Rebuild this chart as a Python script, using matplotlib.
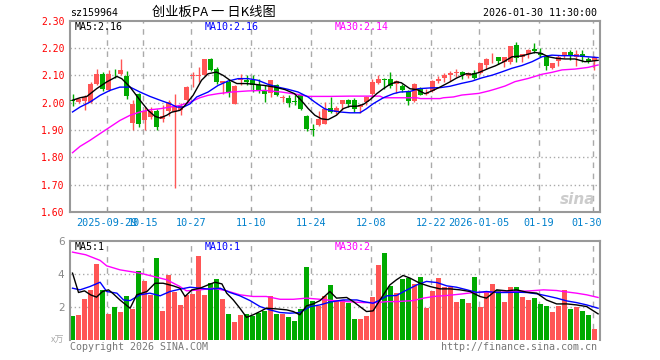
import numpy as np
import matplotlib
matplotlib.use('Agg')
import matplotlib.pyplot as plt
from matplotlib.transforms import ScaledTranslation

plt.rcParams['font.family'] = ['DejaVu Sans Mono', 'Noto Sans CJK SC']

# daily candles, 2025-09-19 .. 2026-01-30
open_ = np.array([
    2.011, 2.001, 2.006, 2.001, 2.068, 2.104, 2.045, 2.106, 2.104, 2.098,
    1.926, 2.030, 1.935, 1.946, 1.970, 1.939, 1.968, 1.966, 1.972, 2.009,
    2.096, 2.096, 2.100, 2.159, 2.124, 2.071, 2.076, 1.996, 2.082, 2.084,
    2.084, 2.066, 2.043, 2.035, 2.063, 2.017, 2.018, 2.005, 2.027, 1.950,
    1.902, 1.917, 1.923, 1.979, 1.966, 1.994, 2.011, 2.011, 1.984, 2.002,
    2.033, 2.073, 2.088, 2.085, 2.070, 2.060, 2.043, 2.005, 2.049, 2.030,
    2.041, 2.079, 2.091, 2.102, 2.107, 2.112, 2.099, 2.107, 2.107, 2.138,
    2.162, 2.166, 2.150, 2.150, 2.211, 2.168, 2.177, 2.196, 2.180, 2.168,
    2.126, 2.152, 2.174, 2.184, 2.168, 2.177, 2.160, 2.154])
close_ = np.array([
    2.006, 2.013, 2.021, 2.068, 2.104, 2.049, 2.104, 2.104, 2.118, 2.024,
    1.996, 1.922, 1.968, 1.968, 1.911, 1.950, 2.001, 1.988, 1.989, 2.057,
    2.102, 2.102, 2.159, 2.118, 2.076, 2.078, 2.039, 2.060, 2.091, 2.074,
    2.063, 2.045, 2.030, 2.082, 2.027, 2.020, 1.999, 2.002, 1.978, 1.902,
    1.900, 1.939, 1.978, 1.966, 1.982, 2.009, 1.994, 1.978, 1.993, 2.021,
    2.076, 2.088, 2.084, 2.060, 2.079, 2.045, 2.005, 2.067, 2.029, 2.035,
    2.078, 2.085, 2.102, 2.109, 2.112, 2.100, 2.107, 2.091, 2.144, 2.160,
    2.165, 2.152, 2.166, 2.206, 2.165, 2.177, 2.193, 2.189, 2.174, 2.134,
    2.144, 2.168, 2.184, 2.172, 2.177, 2.166, 2.154, 2.168])
high_ = np.array([
    2.030, 2.016, 2.027, 2.076, 2.122, 2.112, 2.118, 2.124, 2.160, 2.115,
    2.009, 2.037, 1.984, 1.984, 1.978, 1.990, 2.011, 2.033, 1.999, 2.061,
    2.112, 2.130, 2.161, 2.163, 2.130, 2.079, 2.082, 2.063, 2.106, 2.102,
    2.100, 2.088, 2.063, 2.082, 2.070, 2.027, 2.027, 2.027, 2.033, 1.954,
    1.921, 1.970, 2.002, 2.021, 1.987, 2.009, 2.015, 2.018, 1.996, 2.023,
    2.088, 2.100, 2.091, 2.112, 2.082, 2.070, 2.048, 2.072, 2.057, 2.051,
    2.082, 2.098, 2.109, 2.116, 2.124, 2.116, 2.113, 2.120, 2.146, 2.165,
    2.180, 2.166, 2.166, 2.209, 2.223, 2.179, 2.195, 2.217, 2.201, 2.174,
    2.146, 2.174, 2.187, 2.193, 2.193, 2.193, 2.168, 2.172])
low_ = np.array([
    1.988, 1.998, 1.972, 1.999, 2.066, 2.043, 2.043, 2.091, 2.102, 2.012,
    1.899, 1.911, 1.899, 1.941, 1.901, 1.929, 1.950, 1.688, 1.954, 2.006,
    2.057, 2.076, 2.096, 2.115, 2.070, 2.030, 2.021, 1.994, 2.066, 2.063,
    2.039, 2.037, 2.002, 2.021, 2.023, 2.002, 1.984, 1.990, 1.974, 1.896,
    1.877, 1.913, 1.921, 1.962, 1.957, 1.972, 1.984, 1.966, 1.962, 1.990,
    2.021, 2.067, 2.051, 2.055, 2.035, 2.039, 1.993, 2.002, 2.027, 2.027,
    2.039, 2.072, 2.076, 2.079, 2.094, 2.088, 2.089, 2.087, 2.104, 2.123,
    2.146, 2.140, 2.132, 2.140, 2.150, 2.150, 2.162, 2.180, 2.168, 2.120,
    2.122, 2.135, 2.162, 2.156, 2.134, 2.150, 2.144, 2.120])
volume = np.array([
    1.45, 1.52, 2.48, 3.03, 4.60, 3.03, 1.58, 2.00, 1.70, 2.67,
    1.88, 4.18, 3.58, 2.73, 4.97, 1.76, 3.94, 2.91, 2.12, 2.73,
    2.79, 5.09, 2.73, 3.45, 3.70, 2.48, 1.58, 1.09, 1.52, 1.58,
    1.45, 1.64, 1.76, 2.67, 1.58, 1.58, 1.39, 1.15, 1.88, 4.42,
    2.36, 2.06, 2.67, 3.33, 2.42, 2.42, 2.24, 1.27, 1.27, 1.45,
    2.61, 4.55, 5.27, 3.27, 2.85, 3.70, 3.76, 3.39, 3.82, 1.94,
    2.97, 3.76, 3.21, 3.21, 2.30, 2.48, 2.24, 3.82, 2.00, 2.97,
    3.39, 3.03, 2.30, 3.21, 3.21, 2.61, 2.42, 2.55, 2.18, 2.06,
    1.70, 2.06, 3.03, 1.88, 2.00, 1.76, 1.52, 0.67])

# moving average lines (candle index, value)
ma5_x = [0, 1.25, 2.4, 4.0, 5.7, 7.4, 8.2, 9.6, 11.25, 12.6, 13.75, 14.6, 15.7, 16.5, 17.9,
         18.75, 20.1, 21.5, 22.6, 24.0, 25.1, 26.25, 27.4, 29.0, 30.4, 32.0, 33.7, 35.4, 37.0,
         38.1, 39.3, 40.4, 41.5, 42.6, 44.0, 45.1, 46.25, 47.4, 48.5, 49.6, 50.7, 51.8, 52.9,
         54.0, 54.8, 56.25, 57.4, 58.75, 59.9, 61.25, 62.9, 64.0, 65.6, 66.6, 67.7, 69.4, 70.5,
         71.9, 73.25, 74.9, 76.0, 77.1, 78.2, 79.3, 80.75, 82.1, 83.75, 85.4, 86.5, 87.6]
ma5_v = [2.009, 2.018, 2.023, 2.051, 2.076, 2.096, 2.088, 2.057, 2.009, 1.972, 1.950, 1.944,
         1.954, 1.965, 1.972, 1.990, 2.027, 2.082, 2.106, 2.112, 2.100, 2.082, 2.070, 2.070,
         2.067, 2.063, 2.057, 2.048, 2.033, 2.009, 1.978, 1.954, 1.941, 1.938, 1.954, 1.978,
         1.987, 1.987, 1.994, 2.011, 2.033, 2.051, 2.067, 2.076, 2.073, 2.051, 2.048, 2.033,
         2.043, 2.057, 2.076, 2.090, 2.106, 2.104, 2.110, 2.126, 2.135, 2.150, 2.168, 2.171,
         2.178, 2.184, 2.180, 2.168, 2.162, 2.160, 2.160, 2.150, 2.152, 2.155]
ma10_x = [0, 1.25, 2.9, 4.6, 6.25, 7.9, 9.6, 11.25, 12.9, 14.6, 16.25, 17.4, 18.5, 19.6, 20.7,
          22.6, 24.25, 25.9, 27.6, 29.25, 30.9, 32.6, 34.25, 35.9, 37.6, 39.25, 40.4, 42.0,
          42.9, 44.6, 46.25, 47.9, 49.0, 50.1, 51.8, 53.5, 54.6, 56.25, 57.6, 59.6, 61.25,
          62.9, 64.9, 66.6, 68.25, 70.0, 71.6, 73.25, 74.9, 76.6, 78.25, 79.9, 81.6, 83.75,
          85.9, 87.6]
ma10_v = [1.966, 1.984, 2.002, 2.027, 2.045, 2.057, 2.057, 2.039, 2.023, 2.009, 1.996, 1.984,
          1.984, 1.996, 2.021, 2.039, 2.063, 2.079, 2.088, 2.088, 2.082, 2.067, 2.057, 2.049,
          2.039, 2.021, 2.002, 1.978, 1.972, 1.966, 1.963, 1.963, 1.978, 1.996, 2.018, 2.033,
          2.039, 2.041, 2.051, 2.054, 2.055, 2.060, 2.071, 2.079, 2.091, 2.101, 2.113, 2.126,
          2.136, 2.150, 2.168, 2.174, 2.172, 2.172, 2.168, 2.165]
ma30_x = [0, 1.25, 2.9, 4.6, 6.25, 7.9, 9.6, 11.25, 12.9, 14.6, 16.25, 17.9, 19.6, 21.2, 22.6,
          24.25, 26.5, 29.25, 32.0, 34.8, 37.6, 39.25, 42.9, 46.25, 51.25, 51.8, 57.4, 58.0,
          61.25, 61.8, 63.5, 64.9, 67.7, 69.4, 70.5, 72.1, 73.75, 76.0, 78.25, 79.9, 81.6,
          83.75, 85.9, 87.6]
ma30_v = [1.817, 1.840, 1.862, 1.887, 1.911, 1.935, 1.954, 1.966, 1.974, 1.978, 1.984, 1.990,
          2.002, 2.018, 2.027, 2.033, 2.039, 2.043, 2.045, 2.039, 2.030, 2.023, 2.023, 2.024,
          2.024, 2.018, 2.018, 2.015, 2.015, 2.018, 2.021, 2.028, 2.034, 2.043, 2.050, 2.061,
          2.077, 2.089, 2.104, 2.111, 2.120, 2.123, 2.129, 2.138]

vma5_x = [0, 1.0, 2.0, 3.0, 4.0, 5.0, 6.0, 6.8, 7.9, 9.6, 10.7, 12.4, 13.75, 15.1, 16.8, 17.9,
          18.75, 19.9, 21.25, 22.6, 23.75, 24.9, 25.7, 26.8, 27.9, 29.0, 30.1, 31.25, 32.3,
          34.0, 35.7, 36.8, 37.9, 39.0, 40.1, 41.25, 42.9, 44.0, 45.7, 46.8, 47.9, 49.0, 50.1,
          51.25, 52.9, 54.0, 55.1, 56.25, 57.9, 59.6, 61.25, 62.9, 64.6, 66.25, 67.9, 69.0,
          70.7, 72.4, 74.0, 75.7, 77.4, 79.0, 80.7, 82.4, 84.0, 85.7, 87.6]
vma5_v = [4.04, 2.87, 2.97, 2.73, 2.59, 2.93, 3.03, 2.79, 2.42, 1.92, 2.73, 2.93, 3.43, 3.43,
          3.27, 3.13, 2.63, 3.03, 3.13, 3.33, 3.49, 3.39, 2.83, 2.42, 1.92, 1.37, 1.52, 1.72,
          1.92, 1.88, 1.82, 1.72, 1.52, 2.06, 2.18, 2.38, 2.93, 2.53, 2.57, 2.32, 2.02, 1.72,
          1.76, 2.42, 3.33, 3.64, 3.90, 3.74, 3.43, 3.23, 3.09, 3.09, 3.03, 2.93, 2.63, 2.53,
          3.03, 2.97, 3.03, 2.89, 2.83, 2.42, 2.18, 2.18, 2.12, 2.02, 1.58]
vma10_x = [0, 1.25, 2.9, 4.6, 5.7, 7.4, 8.5, 9.6, 11.25, 12.9, 14.6, 16.25, 17.9, 19.6, 21.25,
           22.9, 24.6, 26.25, 27.9, 29.6, 31.25, 32.9, 34.6, 36.25, 37.9, 39.6, 41.25, 42.9,
           45.1, 47.4, 48.5, 50.1, 51.25, 52.4, 54.0, 55.75, 57.4, 59.0, 60.75, 62.4, 64.0,
           65.75, 67.4, 69.0, 70.7, 72.4, 74.0, 75.7, 77.4, 79.0, 80.7, 82.4, 84.0, 85.7, 87.6]
vma10_v = [3.13, 3.03, 3.23, 3.49, 2.93, 2.83, 2.42, 2.38, 2.73, 2.83, 2.67, 2.93, 3.07, 3.19,
           3.13, 3.07, 3.13, 2.87, 2.67, 2.38, 2.02, 1.82, 1.66, 1.62, 1.66, 2.02, 2.12, 2.29,
           2.42, 2.42, 2.32, 2.22, 2.42, 2.67, 2.69, 3.03, 3.33, 3.54, 3.47, 3.27, 3.19, 3.03,
           2.87, 2.93, 2.87, 2.87, 2.89, 2.87, 2.79, 2.67, 2.53, 2.36, 2.26, 2.12, 1.92]
vma30_x = [0, 2.2, 4.6, 5.7, 7.9, 11.25, 13.5, 15.7, 17.9, 19.0, 21.25, 23.5, 25.7, 27.9, 30.1,
           32.3, 34.6, 36.8, 39.0, 41.25, 42.9, 45.7, 48.5, 50.75, 52.4, 54.0, 56.75, 58.5,
           60.2, 62.4, 64.6, 66.9, 69.0, 71.25, 74.0, 76.25, 78.5, 80.7, 81.8, 84.0, 85.7, 87.6]
vma30_v = [5.31, 5.15, 4.81, 4.48, 4.24, 4.04, 3.84, 3.64, 3.23, 2.97, 3.03, 3.13, 2.97, 2.73,
           2.63, 2.63, 2.46, 2.46, 2.53, 2.46, 2.40, 2.32, 2.26, 2.26, 2.32, 2.32, 2.38, 2.53,
           2.63, 2.69, 2.77, 2.87, 2.89, 2.89, 2.93, 2.97, 3.03, 2.99, 2.93, 2.83, 2.73, 2.57]

tick_idx = [6, 12, 20, 30, 40, 50, 60, 68, 78, 87]
tick_lbl = ['2025-09-29', '10-15', '10-27', '11-10', '11-24', '12-08', '12-22',
            '2026-01-05', '01-19', '01-30']
price_ticks = [1.60, 1.70, 1.80, 1.90, 2.00, 2.10, 2.20, 2.30]
vol_ticks = [2, 4, 6]

RED = '#ff5555'
GREEN = '#00aa00'
GRID = '#aaaaaa'
EDGE = '#999999'

W, H = 660, 360
fig = plt.figure(figsize=(6.6, 3.6), dpi=100)


def fx(px):
    return px / W


def fy(py):
    return 1 - py / H


ax = fig.add_axes([fx(70), fy(212), fx(600) - fx(70), fy(20.7) - fy(212)])
axv = fig.add_axes([fx(70), fy(340), fx(600) - fx(70), fy(240.7) - fy(340)])

x = np.arange(len(close_))
colors = np.where(close_ >= open_, RED, GREEN)
gpos = np.array(tick_idx) - 0.3

# price panel
for y in price_ticks[1:-1]:
    ax.axhline(y, color=GRID, lw=1, ls=(0, (1, 2)), zorder=0)
for p in gpos:
    ax.axvline(p, color=GRID, lw=1, ls=(0, (4, 4)), zorder=0)
ax.vlines(x, low_, high_, colors=colors, lw=1, zorder=2)
body = np.maximum(np.abs(close_ - open_), 0.0025)
ax.bar(x, body, bottom=np.minimum(open_, close_), width=0.82, color=colors,
       linewidth=0, zorder=3)
ax.plot(ma30_x, ma30_v, color='#ff00ff', lw=1, zorder=4)
ax.plot(ma10_x, ma10_v, color='#0000ff', lw=1, zorder=4)
ax.plot(ma5_x, ma5_v, color='black', lw=1, zorder=4)
ax.set_xlim(-0.42, 87.92)
ax.set_ylim(1.60, 2.30)
ax.set_yticks(price_ticks)
ax.set_yticklabels(['%.2f' % v for v in price_ticks], color='red', fontsize=7)
ax.tick_params(axis='y', length=0, pad=4)
ax.set_xticks(gpos)
ax.set_xticklabels(tick_lbl, color='#0080cc', fontsize=7.3)
ax.tick_params(axis='x', direction='in', length=3, color=EDGE, pad=4)
last = ax.get_xticklabels()[-1]
last.set_transform(last.get_transform() + ScaledTranslation(-6 / 100, 0, fig.dpi_scale_trans))
for s in ax.spines.values():
    s.set_color(EDGE)
    s.set_linewidth(1.5)

# volume panel
for y in [2, 4]:
    axv.axhline(y, color=GRID, lw=1, ls=(0, (1, 2)), zorder=0)
for p in gpos:
    axv.axvline(p, color=GRID, lw=1, ls=(0, (4, 4)), zorder=0)
axv.bar(x, volume, width=0.82, color=colors, linewidth=0, zorder=2)
axv.plot(vma30_x, vma30_v, color='#ff00ff', lw=1, zorder=4)
axv.plot(vma10_x, vma10_v, color='#0000ff', lw=1, zorder=4)
axv.plot(vma5_x, vma5_v, color='black', lw=1, zorder=4)
axv.set_xlim(-0.42, 87.92)
axv.set_ylim(0, 6)
axv.set_xticks([])
axv.set_yticks(vol_ticks)
axv.set_yticklabels([str(v) for v in vol_ticks], color='#888888', fontsize=7.5,
                    family='DejaVu Sans')
axv.tick_params(axis='y', length=0, pad=4)
for k, s in axv.spines.items():
    s.set_color(EDGE)
    s.set_linewidth(1.5)
axv.spines['bottom'].set_visible(False)

# texts
fig.text(fx(70), fy(13), 'sz159964', fontsize=7.2, va='center', ha='left')
fig.text(fx(214), fy(12.5), '创业板PA 一 日K线图', fontsize=9.5, va='center', ha='center',
         family=['Noto Sans CJK SC', 'DejaVu Sans'])
fig.text(fx(597), fy(13), '2026-01-30 11:30:00', fontsize=7.2, va='center', ha='right')

fig.text(fx(75), fy(26.5), 'MA5:2.16', fontsize=7.2, va='center', color='black')
fig.text(fx(205), fy(26.5), 'MA10:2.16', fontsize=7.2, va='center', color='#0000ff')
fig.text(fx(335), fy(26.5), 'MA30:2.14', fontsize=7.2, va='center', color='#ff00ff')

fig.text(fx(75), fy(246.5), 'MA5:1', fontsize=7.2, va='center', color='black')
fig.text(fx(205), fy(246.5), 'MA10:1', fontsize=7.2, va='center', color='#0000ff')
fig.text(fx(335), fy(246.5), 'MA30:2', fontsize=7.2, va='center', color='#ff00ff')

fig.text(fx(64), fy(340), 'x万', fontsize=6.5, va='center', ha='right', color='#aaaaaa',
         family=['Noto Sans CJK SC', 'DejaVu Sans'])
fig.text(fx(70), fy(347), 'Copyright 2026 SINA.COM', fontsize=7.2, va='center',
         ha='left', color='#777777')
fig.text(fx(597), fy(347), 'http://finance.sina.com.cn', fontsize=7.2, va='center',
         ha='right', color='#777777')
fig.text(fx(578), fy(200), 'sina', fontsize=11, va='center', ha='center',
         color='#cccccc', style='italic', weight='bold', family='DejaVu Sans')

fig.savefig('out.png', dpi=100)
